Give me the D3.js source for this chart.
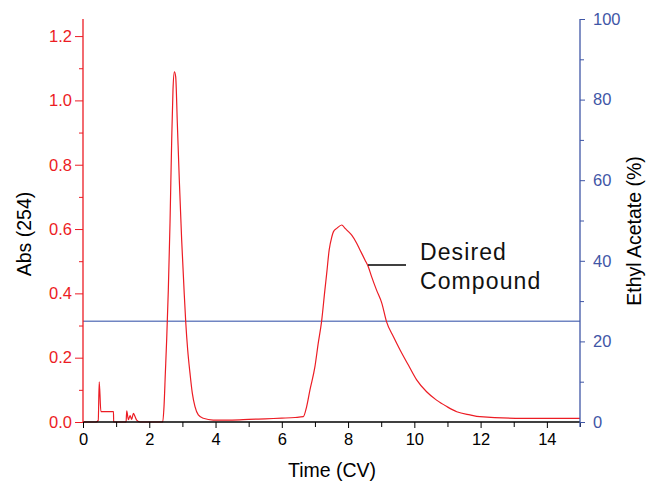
<!DOCTYPE html>
<html>
<head>
<meta charset="utf-8">
<script src="https://cdn.jsdelivr.net/npm/d3@7"></script>
<style>
  html, body { margin: 0; padding: 0; background: #fff; }
  svg { display: block; font-family: "Liberation Sans", Arial, Helvetica, sans-serif; }
</style>
</head>
<body>
<svg id="chart" width="646" height="482"></svg>
<script>
// ---- data ----
const timeCV = [0, 0.39, 0.46, 0.49, 0.54, 0.92, 0.925, 1.30, 1.32, 1.37, 1.42, 1.47, 1.52, 1.57, 1.62, 1.72,
  2.405, 2.445, 2.485, 2.525, 2.575, 2.626, 2.677, 2.716, 2.757, 2.797, 2.847, 2.907, 2.978, 3.05, 3.10, 3.16, 3.23, 3.30, 3.38, 3.48, 3.63, 3.93,
  4.5, 5.0, 5.5, 6.0, 6.4,
  6.65, 6.75, 6.85, 7.00, 7.10, 7.20, 7.30, 7.355, 7.43, 7.51, 7.56, 7.66, 7.81, 7.91, 8.01, 8.11, 8.26, 8.36, 8.51, 8.61, 8.71, 8.86,
  9.02, 9.16, 9.37, 9.57, 9.82, 10.07, 10.37, 10.67, 10.98, 11.28, 11.68, 11.98, 13.29, 15.0];
const absorbance = [0, 0, 0.005, 0.125, 0.032, 0.032, 0, 0, 0.035, 0.007, 0.02, 0.008, 0.027, 0.017, 0.006, 0,
  0, 0.048, 0.151, 0.255, 0.41, 0.618, 0.877, 1.032, 1.089, 1.074, 0.929, 0.752, 0.566, 0.41, 0.312, 0.224, 0.151, 0.089, 0.048, 0.022, 0.0115, 0.006,
  0.006, 0.008, 0.010, 0.012, 0.014,
  0.0165, 0.048, 0.10, 0.172, 0.245, 0.312, 0.41, 0.462, 0.535, 0.576, 0.592, 0.602, 0.6125, 0.602, 0.592, 0.581, 0.556, 0.535, 0.504, 0.483, 0.452, 0.41,
  0.369, 0.312, 0.265, 0.224, 0.177, 0.131, 0.094, 0.068, 0.048, 0.032, 0.022, 0.0165, 0.0115, 0.011];
const gradientTime = [0, 15];
const ethylAcetate = [25, 25];
const xTicks = [0, 2, 4, 6, 8, 10, 12, 14];
const yLeftTicks = [0, 0.2, 0.4, 0.6, 0.8, 1.0, 1.2];
const yRightTicks = [0, 20, 40, 60, 80, 100];
const annotation = ["Desired", "Compound"];

// ---- layout ----
const RED = "#ec1c24", BLUE = "#3f56a6", LINEBLUE = "#7085c2";
const svg = d3.select("#chart");
const L = 83, R = 580, T = 19, B = 422;

const x = d3.scaleLinear().domain([0, 15]).range([L, R]);
const yL = d3.scaleLinear().domain([0, 1.25]).range([B, T + 1]);
const yR = d3.scaleLinear().domain([0, 100]).range([B, T]);

// gradient line
svg.append("path")
  .datum(gradientTime.map((t, i) => [t, ethylAcetate[i]]))
  .attr("fill", "none").attr("stroke", LINEBLUE).attr("stroke-width", 1.3)
  .attr("d", d3.line().x(d => x(d[0])).y(d => yR(d[1])));

// absorbance trace
svg.append("path")
  .datum(timeCV.map((t, i) => [t, absorbance[i]]))
  .attr("fill", "none").attr("stroke", RED).attr("stroke-width", 1.2)
  .attr("stroke-linejoin", "round")
  .attr("d", d3.line().x(d => x(d[0])).y(d => yL(d[1])).curve(d3.curveMonotoneX));

// bottom axis
const gx = svg.append("g").attr("transform", `translate(0,${B})`);
gx.call(d3.axisBottom(x).tickValues(d3.range(1, 16, 2)).tickSize(5).tickFormat(""));
gx.call(g => g.select(".domain").remove());
const gx2 = svg.append("g").attr("transform", `translate(0,${B})`)
  .call(d3.axisBottom(x).tickValues(xTicks).tickSize(6).tickPadding(5).tickFormat(d3.format("d")));
gx2.select(".domain").attr("stroke", "#000").attr("stroke-width", 1.3).attr("d", `M${L},0H${R}`);
gx2.selectAll("text").attr("font-size", 16.5).attr("fill", "#000").attr("font-family", "Liberation Sans, Arial, sans-serif");

// left axis
const gl = svg.append("g").attr("transform", `translate(${L},0)`);
gl.call(d3.axisLeft(yL).tickValues(d3.range(0.1, 1.21, 0.2)).tickSize(4).tickFormat(""));
gl.select(".domain").remove();
gl.selectAll("line").attr("stroke", RED);
const gl2 = svg.append("g").attr("transform", `translate(${L},0)`)
  .call(d3.axisLeft(yL).tickValues(yLeftTicks).tickSize(8).tickPadding(3).tickFormat(d3.format(".1f")));
gl2.select(".domain").attr("stroke", RED).attr("stroke-width", 1.3).attr("d", `M0,${B}V${T}`);
gl2.selectAll("line").attr("stroke", RED);
gl2.selectAll("text").attr("fill", RED).attr("font-size", 16.5).attr("font-family", "Liberation Sans, Arial, sans-serif");

// right axis
const gr = svg.append("g").attr("transform", `translate(${R},0)`);
gr.call(d3.axisRight(yR).tickValues(d3.range(10, 100, 20)).tickSize(4).tickFormat(""));
gr.select(".domain").remove();
gr.selectAll("line").attr("stroke", BLUE);
const gr2 = svg.append("g").attr("transform", `translate(${R},0)`)
  .call(d3.axisRight(yR).tickValues(yRightTicks).tickSize(5).tickPadding(8).tickFormat(d3.format("d")));
gr2.select(".domain").attr("stroke", BLUE).attr("stroke-width", 1.3).attr("d", `M0,${B + 5}V${T}`);
gr2.selectAll("line").attr("stroke", BLUE);
gr2.selectAll("text").attr("fill", BLUE).attr("font-size", 16.5).attr("font-family", "Liberation Sans, Arial, sans-serif");

// axis titles
svg.append("text").attr("transform", "translate(31,234) rotate(-90)")
  .attr("text-anchor", "middle").attr("font-size", 19.5).attr("fill", "#000").text("Abs (254)");
svg.append("text").attr("transform", "translate(641,231) rotate(-90)")
  .attr("text-anchor", "middle").attr("font-size", 19.5).attr("fill", "#000").text("Ethyl Acetate (%)");
svg.append("text").attr("x", 332).attr("y", 477)
  .attr("text-anchor", "middle").attr("font-size", 19.5).attr("fill", "#000").text("Time (CV)");

// annotation
svg.append("line").attr("x1", 368).attr("x2", 406).attr("y1", 265).attr("y2", 265)
  .attr("stroke", "#000").attr("stroke-width", 1.3);
const ann = svg.append("text").attr("x", 420).attr("y", 260)
  .attr("font-size", 23).attr("letter-spacing", 1.1).attr("fill", "#111");
annotation.forEach((s, i) => ann.append("tspan").attr("x", 420).attr("dy", i === 0 ? 0 : 29).text(s));
</script>
</body>
</html>
